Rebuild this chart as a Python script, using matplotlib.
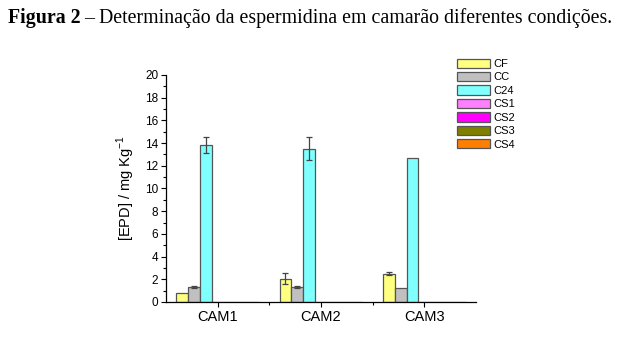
import numpy as np
import matplotlib
matplotlib.use('Agg')
import matplotlib.pyplot as plt

plt.rcParams['font.family'] = ['Liberation Sans', 'DejaVu Sans']

# --- データ ---
samples = ["CAM1", "CAM2", "CAM3"]
series = ["CF", "CC", "C24", "CS1", "CS2", "CS3", "CS4"]
colors = ["#FFFF80", "#C0C0C0", "#80FFFF", "#FF80FF", "#FF00FF", "#808000", "#FF8000"]

cf = [0.75, 2.05, 2.5]
cc = [1.3, 1.3, 1.2]
c24 = [13.8, 13.5, 12.7]
cs1 = [0, 0, 0]
cs2 = [0, 0, 0]
cs3 = [0, 0, 0]
cs4 = [0, 0, 0]

cf_err = [0, 0.47, 0.1]
cc_err = [0.07, 0.08, 0]
c24_err = [0.7, 1.0, 0]
zero_err = [0, 0, 0]

values = [cf, cc, c24, cs1, cs2, cs3, cs4]
errors = [cf_err, cc_err, c24_err, zero_err, zero_err, zero_err, zero_err]

fig = plt.figure(figsize=(6.21, 3.42), dpi=100)
ax = fig.add_axes([0.267, 0.117, 0.4995, 0.664])

x = np.arange(len(samples))
n = len(series)
w = 0.8 / n
for i in range(n):
    pos = x - 0.4 + (i + 0.5) * w
    ax.bar(pos, values[i], width=w, color=colors[i], edgecolor="#555555",
           linewidth=0.9, label=series[i], zorder=2)
    err = np.array(errors[i])
    mask = err > 0
    if mask.any():
        ax.errorbar(pos[mask], np.array(values[i])[mask], yerr=err[mask], fmt='none',
                    ecolor="#444444", elinewidth=0.9, capsize=2.5, capthick=0.9, zorder=3)

ax.set_xlim(-0.5, 2.5)
ax.set_ylim(0, 20)
ax.set_xticks(x)
ax.set_xticklabels(samples, fontsize=10.5)
ax.set_xticks([0.5, 1.5], minor=True)
ax.set_yticks(np.arange(0, 21, 2))
ax.set_yticks(np.arange(1, 20, 2), minor=True)
ax.tick_params(axis='y', labelsize=8.5, length=3.5, width=0.8, pad=2)
ax.tick_params(axis='y', which='minor', length=2, width=0.8)
ax.tick_params(axis='x', length=3.5, width=0.8, pad=2)
ax.tick_params(axis='x', which='minor', length=2, width=0.8)
ax.spines['top'].set_visible(False)
ax.spines['right'].set_visible(False)
ax.spines['left'].set_linewidth(0.9)
ax.spines['bottom'].set_linewidth(0.9)
ax.set_ylabel("[EPD] / mg Kg$^{\\mathregular{-1}}$", fontsize=10.5, labelpad=6)

ax.legend(loc='upper left', bbox_to_anchor=(457 / 621, 1 - 58.5 / 342),
          bbox_transform=fig.transFigure, frameon=False,
          fontsize=8, handlelength=3.0, handleheight=0.9, handletextpad=0.3,
          labelspacing=0.27, borderpad=0, borderaxespad=0)

# --- タイトル ---
t1 = fig.text(0.013, 0.947, "Figura 2", fontsize=14.3, fontweight='bold',
              family='Liberation Serif', va='center', ha='left')
fig.canvas.draw()
bb = t1.get_window_extent()
x1 = bb.x1 / fig.bbox.width
fig.text(x1 + 0.006, 0.947, "– Determinação da espermidina em camarão diferentes condições.",
         fontsize=14.3, family='Liberation Serif', va='center', ha='left')

fig.savefig("out.png", dpi=100)
